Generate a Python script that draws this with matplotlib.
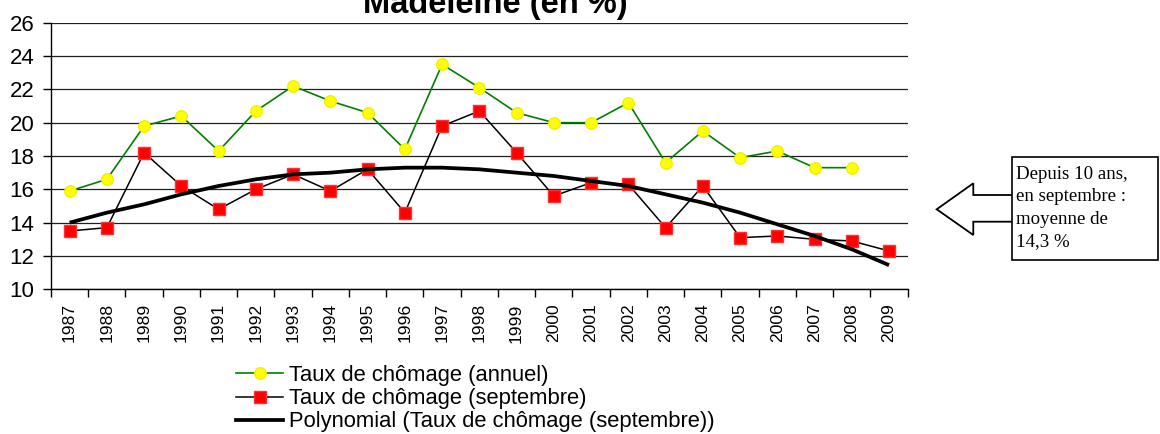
import matplotlib.pyplot as plt
import numpy as np
from matplotlib.lines import Line2D
from matplotlib.patches import Polygon, Rectangle

plt.rcParams["font.family"] = ["Liberation Sans", "DejaVu Sans"]

years = ["1987", "1988", "1989", "1990", "1991", "1992", "1993", "1994",
         "1995", "1996", "1997", "1998", "1999", "2000", "2001", "2002",
         "2003", "2004", "2005", "2006", "2007", "2008", "2009"]

# taux de chomage annuel (no value for 2009)
annual = [15.9, 16.6, 19.8, 20.4, 18.3, 20.7, 22.2, 21.3, 20.6, 18.4, 23.5,
          22.1, 20.6, 20.0, 20.0, 21.2, 17.6, 19.5, 17.9, 18.3, 17.3, 17.3,
          np.nan]

# taux de chomage en septembre
september = [13.5, 13.7, 18.2, 16.2, 14.8, 16.0, 16.9, 15.9, 17.2, 14.6, 19.8,
             20.7, 18.2, 15.6, 16.4, 16.3, 13.7, 16.2, 13.1, 13.2, 13.0, 12.9,
             12.3]

# polynomial trend line
trend = [14.0, 14.6, 15.1, 15.7, 16.2, 16.6, 16.9, 17.0, 17.2, 17.3, 17.3,
         17.2, 17.0, 16.8, 16.5, 16.2, 15.7, 15.2, 14.6, 13.9, 13.2, 12.4,
         11.45]

labels = ["Taux de chômage (annuel)",
          "Taux de chômage (septembre)",
          "Polynomial (Taux de chômage (septembre))"]

W, H = 1160, 434


def fx(px):
    return px / W


def fy(py):
    return 1 - py / H


fig = plt.figure(figsize=(W / 100, H / 100), dpi=100)
ax = fig.add_axes([fx(51), fy(289.3), fx(907.7 - 51), (289.3 - 22.7) / H])

x = np.arange(len(years))
ax.plot(x, annual, color="#008000", lw=1.2, marker="o", ms=8.3,
        mfc="#ffff00", mec="#f0f000", zorder=3)
ax.plot(x, september, color="black", lw=1.1, marker="s", ms=8.3,
        mfc="#ff0000", mec="#ff3030", zorder=4)
ax.plot(x, trend, color="black", lw=2.7, solid_capstyle="butt", zorder=5)

ax.set_xlim(-0.5, len(years) - 0.5)
ax.set_ylim(10, 26)
ax.set_yticks(np.arange(10, 27, 2))
ax.yaxis.grid(True, color="#202020", lw=0.9)
ax.set_axisbelow(True)

ax.set_xticks(np.arange(-0.5, len(years)), labels=[])
ax.set_xticks(x, labels=years, minor=True, rotation=90, fontsize=12.6)
ax.tick_params(axis="x", which="major", length=6, width=1, direction="out")
ax.tick_params(axis="x", which="minor", length=0, pad=10)
ax.tick_params(axis="y", length=6, width=1, labelsize=16, pad=6)

for side in ("top", "right"):
    ax.spines[side].set_visible(False)
for side in ("left", "bottom"):
    ax.spines[side].set_linewidth(1)

fig.text(fx(495.5), fy(12.7), "Madeleine (en %)", ha="center", va="baseline",
         fontsize=23.5, fontweight="bold")

handles = [
    Line2D([], [], color="#008000", lw=1.2, marker="o", ms=8.3,
           mfc="#ffff00", mec="#f0f000"),
    Line2D([], [], color="black", lw=1.1, marker="s", ms=8.3,
           mfc="#ff0000", mec="#ff3030"),
    Line2D([], [], color="black", lw=2.7),
]
fig.legend(handles, labels, loc="upper left",
           bbox_to_anchor=(fx(236), fy(365)), frameon=False,
           fontsize=15.8, handlelength=2.15, handletextpad=0.25,
           labelspacing=0.1, borderpad=0, borderaxespad=0)

# callout box with block arrow
box = Rectangle((fx(1011.7), fy(260)), fx(1158.3 - 1011.7), (260 - 156.7) / H,
                transform=fig.transFigure, fill=False, ec="black", lw=1.2)
fig.add_artist(box)
arrow_px = [(1011.7, 195), (973.3, 195), (973.3, 183.3), (936.7, 209.3),
            (973.3, 235), (973.3, 221.7), (1011.7, 221.7)]
arrow = Polygon([(fx(a), fy(b)) for a, b in arrow_px], closed=False,
                transform=fig.transFigure, fill=False, ec="black", lw=1.3)
fig.add_artist(arrow)
fig.text(fx(1016), fy(166),
         "Depuis 10 ans,\nen septembre :\nmoyenne de\n14,3 %",
         ha="left", va="top", fontsize=13.6, family="Liberation Serif",
         linespacing=1.42)

fig.savefig("out.png", dpi=100)
